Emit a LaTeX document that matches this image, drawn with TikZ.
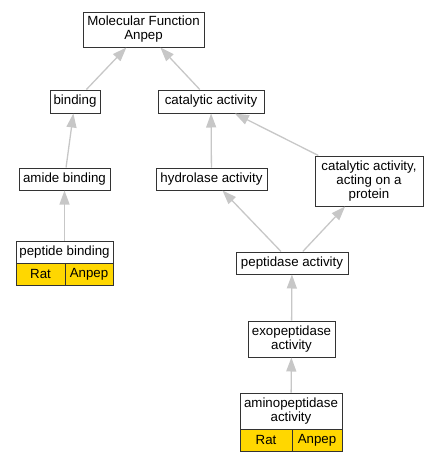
\documentclass[tikz,border=0pt]{standalone}
\usepackage{fontspec}
\setmainfont{Liberation Sans}
\usetikzlibrary{arrows.meta}
\definecolor{cedge}{gray}{.78}
\definecolor{cbox}{gray}{.2}
\definecolor{cgene}{HTML}{FFD700}
\tikzset{>={Triangle[length=14pt, width=10pt]}}
\tikzset{term/.style={draw=cbox, line width=1pt, fill=white, inner sep=0pt, align=center,
    font=\fontsize{13.3}{14}\selectfont}}
\tikzset{gene/.style={term, fill=cgene, minimum height=22pt}}
\tikzset{isa/.style={->, draw=cedge, line width=1.3pt}}

\begin{document}
\begin{tikzpicture}[x=1pt, y=-1pt]
    \useasboundingbox(0, 0)rectangle(437, 461);
    % terms
    \node[term, minimum width=121pt, minimum height=35pt](mf) at(143.5, 29.5){Molecular Function\\Anpep};
    \node[term, minimum width=50pt, minimum height=23pt](bind) at(75, 101.5){binding};
    \node[term, minimum width=106pt, minimum height=23pt](cat) at(211, 101.5){catalytic activity};
    \node[term, minimum width=91pt, minimum height=22pt](amide) at(64.5, 179){amide binding};
    \node[term, minimum width=111pt, minimum height=22pt](hydro) at(211.5, 179){hydrolase activity};
    \node[term, minimum width=108pt, minimum height=50pt](catprot) at(369, 181){catalytic activity,\\acting on a\\protein};
    \node[term, minimum width=97pt, minimum height=22pt](pept) at(64.5, 252){peptide binding};
    \node[gene, minimum width=49pt](peptrat) at(40.5, 274){Rat};
    \node[gene, minimum width=48pt](peptanpep) at(89, 274){Anpep};
    \node[term, minimum width=112pt, minimum height=22pt](pdase) at(292, 263){peptidase activity};
    \node[term, minimum width=87pt, minimum height=36pt](exo) at(291.5, 339){exopeptidase\\activity};
    \node[term, minimum width=102pt, minimum height=36pt](amino) at(291, 411){aminopeptidase\\activity};
    \node[gene, minimum width=52pt](aminorat) at(266, 440){Rat};
    \node[gene, minimum width=50pt](aminoanpep) at(317, 440){Anpep};
    % is_a edges
    \draw[isa](bind)--(mf);
    \draw[isa](cat)--(mf);
    \draw[isa](amide)--(bind);
    \draw[isa](hydro)--(cat);
    \draw[isa](catprot)--(cat);
    \draw[isa](pept)--(amide);
    \draw[isa](pdase)--(hydro);
    \draw[isa](pdase)--(catprot);
    \draw[isa](exo)--(pdase);
    \draw[isa](amino)--(exo);
\end{tikzpicture}
\end{document}
